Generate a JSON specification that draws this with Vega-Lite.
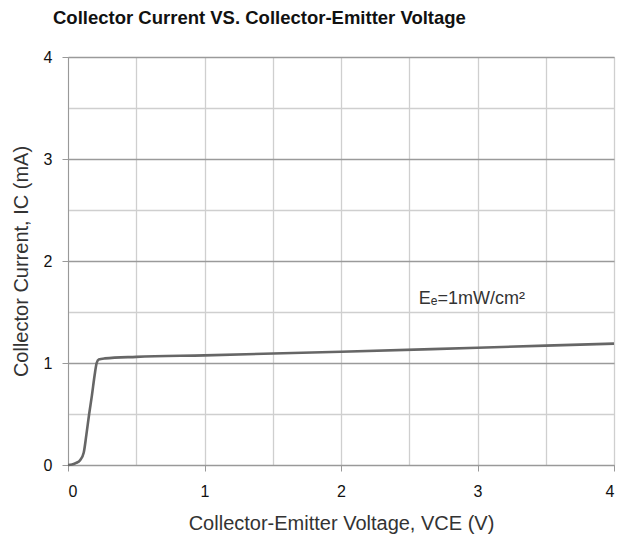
{
  "$schema": "https://vega.github.io/schema/vega-lite/v6.json",
  "width": 546,
  "height": 408,
  "autosize": {"type": "none"},
  "padding": {"left": 68, "top": 57, "right": 6, "bottom": 71},
  "background": "white",
  "title": {
    "text": "Collector Current VS. Collector-Emitter Voltage",
    "anchor": "start",
    "frame": "group",
    "dx": -15,
    "offset": 22,
    "font": "Liberation Sans",
    "fontSize": 18.5,
    "fontWeight": "bold",
    "color": "#111"
  },
  "config": {
    "view": {"stroke": "#bbb"},
    "axis": {
      "labelFont": "Liberation Sans",
      "titleFont": "Liberation Sans",
      "labelFontSize": 16,
      "titleFontSize": 20,
      "titleFontWeight": "normal",
      "labelColor": "#111",
      "titleColor": "#333",
      "domainColor": "#999",
      "tickSize": 6
    }
  },
  "datasets": {
    "curve": [
      {"v": 0, "i": 0},
      {"v": 0.03, "i": 0.005},
      {"v": 0.06, "i": 0.02},
      {"v": 0.09, "i": 0.05},
      {"v": 0.115, "i": 0.12},
      {"v": 0.135, "i": 0.3},
      {"v": 0.155, "i": 0.5},
      {"v": 0.175, "i": 0.68},
      {"v": 0.195, "i": 0.88},
      {"v": 0.21, "i": 1.0},
      {"v": 0.225, "i": 1.035},
      {"v": 0.27, "i": 1.045},
      {"v": 0.5, "i": 1.06},
      {"v": 1, "i": 1.075},
      {"v": 2, "i": 1.11},
      {"v": 3, "i": 1.15},
      {"v": 4, "i": 1.19}
    ],
    "label": [
      {"v": 2.57, "i": 1.63, "t": "Eₑ=1mW/cm²"}
    ]
  },
  "layer": [
    {
      "data": {"name": "curve"},
      "mark": {"type": "line", "color": "#666", "strokeWidth": 2.6, "interpolate": "monotone"},
      "encoding": {
        "x": {
          "field": "v", "type": "quantitative",
          "scale": {"domain": [0, 4], "nice": false},
          "axis": {
            "title": "Collector-Emitter Voltage, VCE (V)",
            "values": [0, 0.5, 1, 1.5, 2, 2.5, 3, 3.5, 4],
            "labelExpr": "datum.value % 1 === 0 ? format(datum.value, 'd') : ''",
            "tickColor": {"condition": {"test": "datum.value % 1 === 0", "value": "#999"}, "value": "transparent"},
            "grid": true,
            "gridColor": "#cfcfcf",
            "gridWidth": 1.3,
            "labelPadding": 12,
            "titlePadding": 14
          }
        },
        "y": {
          "field": "i", "type": "quantitative",
          "scale": {"domain": [0, 4], "nice": false},
          "axis": {
            "title": "Collector Current, IC (mA)",
            "values": [0, 0.5, 1, 1.5, 2, 2.5, 3, 3.5, 4],
            "labelExpr": "datum.value % 1 === 0 ? format(datum.value, 'd') : ''",
            "tickColor": {"condition": {"test": "datum.value % 1 === 0", "value": "#999"}, "value": "transparent"},
            "grid": true,
            "gridColor": {"condition": {"test": "datum.value % 1 === 0", "value": "#9a9a9a"}, "value": "#cfcfcf"},
            "gridWidth": 1.3,
            "labelPadding": 10,
            "titlePadding": 12
          }
        }
      }
    },
    {
      "data": {"name": "label"},
      "mark": {"type": "text", "align": "left", "baseline": "middle", "font": "Liberation Sans", "fontSize": 18, "color": "#333"},
      "encoding": {
        "x": {"field": "v", "type": "quantitative"},
        "y": {"field": "i", "type": "quantitative"},
        "text": {"field": "t"}
      }
    }
  ]
}
